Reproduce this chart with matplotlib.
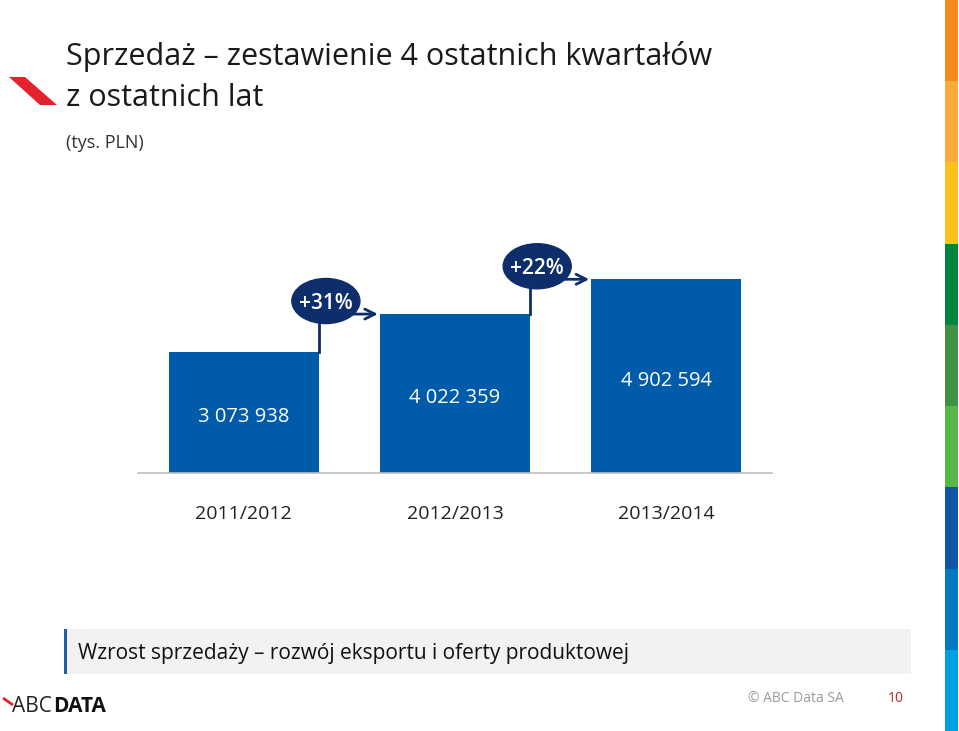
import matplotlib
matplotlib.use("Agg")
import matplotlib.pyplot as plt
from matplotlib.patches import Ellipse, Rectangle, Polygon

# data
seasons = ['2011/2012', '2012/2013', '2013/2014']
sales = [3073938, 4022359, 4902594]
growth = ['+31%', '+22%']

unit = '(tys. PLN)'
note = 'Wzrost sprzedaży \u2013 rozwój eksportu i oferty produktowej'

stripe_colors = ['#F58A1F', '#F9AA3A', '#FDC11E', '#00843F', '#3E9242',
                 '#58B847', '#0D57A6', '#0079C1', '#00A0E3']

BAR = '#005BAA'
NAVY = '#0E2D6B'
FONT = 'Open Sans'

W, H = 959, 731
fig = plt.figure(figsize=(W / 100, H / 100), dpi=100)

# background axes in pixel coords for slide decorations
bg = fig.add_axes([0, 0, 1, 1])
bg.set_xlim(0, W)
bg.set_ylim(H, 0)
bg.axis('off')

# right colour stripe
seg = H / len(stripe_colors)
for i, c in enumerate(stripe_colors):
    bg.add_patch(Rectangle((945, i * seg), 13, seg + 0.5, color=c, lw=0))

# red mark next to title
bg.add_patch(Polygon([(9, 77), (25, 77), (57, 105), (40, 105)],
                     closed=True, color='#E3222B', lw=0))

bg.text(66, 57, 'Sprzedaż \u2013 zestawienie 4 ostatnich kwartałów',
        fontsize=22, family=FONT, color='#1a1a1a', va='center', ha='left')
bg.text(66, 98, 'z ostatnich lat',
        fontsize=22, family=FONT, color='#1a1a1a', va='center', ha='left')
bg.text(66, 143, unit, fontsize=13, family=FONT, color='#333333',
        va='center', ha='left')

# bottom note box
bg.add_patch(Rectangle((64, 629), 847, 45, color='#F2F2F2', lw=0))
bg.add_patch(Rectangle((64, 629), 3, 45, color='#1F5FA8', lw=0))
bg.text(78, 654, note, fontsize=15, family=FONT, color='#111111',
        va='center', ha='left')

# footer
bg.plot([3, 13], [698, 705], color='#E3222B', lw=2, solid_capstyle='butt')
bg.text(12, 706, 'ABC', fontsize=15, family=FONT, color='#222222',
        va='center', ha='left')
bg.text(53, 706, 'DATA', fontsize=15, family=FONT, fontweight='bold',
        color='#111111', va='center', ha='left')
bg.text(748, 698, '\u00a9 ABC Data SA', fontsize=10, family=FONT,
        color='#9a9a9a', va='center', ha='left')
bg.text(896, 698, '10', fontsize=10, family=FONT, color='#C0272D',
        va='center', ha='center')

# chart axes
ax = fig.add_axes([138 / W, (H - 473) / H, 634 / W, 243 / H])
ax.set_xlim(-0.5, 2.5)
ax.set_ylim(0, 6.15e6)
x = range(len(sales))
bw = 0.71
ax.bar(x, sales, width=bw, color=BAR, zorder=2)
for i, v in enumerate(sales):
    ax.text(i, v / 2 - 0.05e6, f'{v:,}'.replace(',', ' '), color='white',
            fontsize=14.5, family=FONT, ha='center', va='center_baseline')
for s in ['top', 'right', 'left']:
    ax.spines[s].set_visible(False)
ax.spines['bottom'].set_color('#BFBFBF')
ax.spines['bottom'].set_linewidth(1.2)
ax.set_yticks([])
ax.set_xticks(list(x))
ax.set_xticklabels(seasons, fontsize=14, family=FONT, color='#222222')
ax.tick_params(axis='x', length=0, pad=23)

# growth connectors
for i, g in enumerate(growth):
    x0 = i + bw / 2
    x1 = i + 1 - bw / 2
    y0 = sales[i]
    y1 = sales[i + 1]
    ax.plot([x0, x0], [y0, y1], color=NAVY, lw=2, zorder=3, clip_on=False)
    ax.annotate('', xy=(x1 - 0.01, y1), xytext=(x0, y1),
                arrowprops=dict(arrowstyle='->', color=NAVY, lw=2,
                                mutation_scale=18, shrinkA=0, shrinkB=0),
                zorder=3, annotation_clip=False)
    ax.add_patch(Ellipse((x0 + 0.034, y1 + 0.33e6), 0.322, 1.14e6,
                         color=NAVY, zorder=4, clip_on=False))
    ax.text(x0 + 0.034, y1 + 0.33e6, g, color='white', fontsize=15,
            fontweight='semibold', family=FONT, ha='center',
            va='center_baseline', zorder=5)

fig.savefig('out.png', dpi=100)
